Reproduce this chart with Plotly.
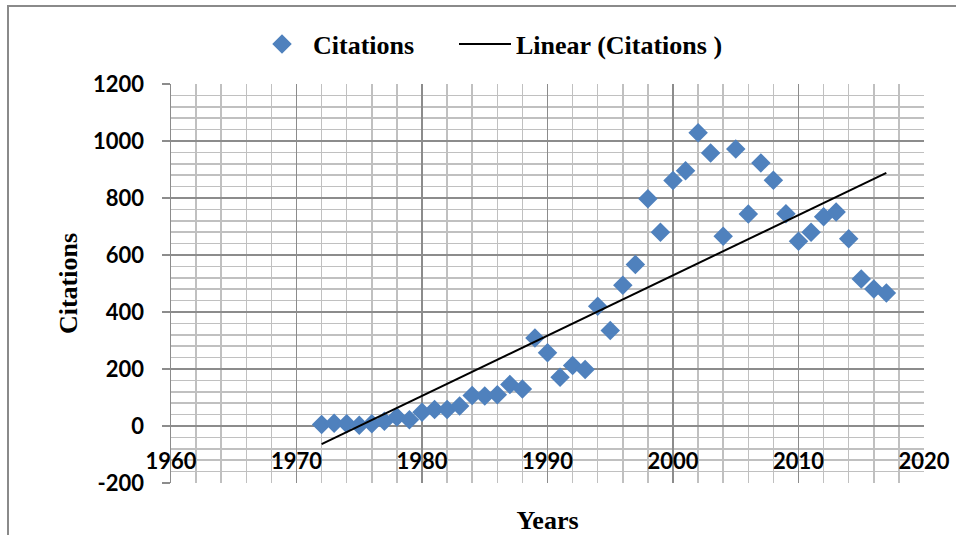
import numpy as np
import plotly.graph_objects as go

years = list(range(1972, 2018))
citations = [5, 10, 8, 3, 8, 17, 32, 22, 48, 58, 58, 70, 107, 105, 110, 146, 130,
             309, 257, 171, 212, 198, 420, 335, 494, 567, 797, 680, 861, 896,
             1029, 958, 666, 972, 744, 923, 862, 745, 648, 680, 734, 751, 657,
             516, 481, 467]

x_ticks = [1960, 1970, 1980, 1990, 2000, 2010, 2020]
y_ticks = [-200, 0, 200, 400, 600, 800, 1000, 1200]

slope, intercept = np.polyfit(years, citations, 1)
trend_x = [years[0], years[-1]]
trend_y = [slope * v + intercept for v in trend_x]

SERIF = "Liberation Serif, Times New Roman, serif"
SANS = "Lato, Carlito, Calibri, sans-serif"
MAJOR = "#8C8C8C"
MINOR = "#C0C0C0"

fig = go.Figure()
fig.add_trace(go.Scatter(
    x=years, y=citations, mode="markers", name="Citations",
    marker=dict(symbol="diamond", size=15, color="#4F81BD",
                line=dict(width=0)),
    legend="legend",
))
fig.add_trace(go.Scatter(
    x=trend_x, y=trend_y, mode="lines", name="Linear (Citations )",
    line=dict(color="black", width=2),
    legend="legend2",
))

L, R, T, B = 171, 32, 84, 52
W, H = 956, 535
pw, ph = W - L - R, H - T - B

def px_x(p):
    return (p - L) / pw

def px_y(p):
    return (H - B - p) / ph

legend_font = dict(family=SERIF, size=26, color="black", weight="bold")

fig.update_layout(
    width=W, height=H,
    margin=dict(l=L, r=R, t=T, b=B, autoexpand=False),
    paper_bgcolor="white", plot_bgcolor="white",
    showlegend=True,
    legend=dict(orientation="h", x=px_x(251), xanchor="left",
                y=px_y(44), yanchor="middle", font=legend_font,
                itemwidth=52, bgcolor="rgba(0,0,0,0)"),
    legend2=dict(orientation="h", x=px_x(454), xanchor="left",
                 y=px_y(44), yanchor="middle", font=legend_font,
                 itemwidth=52, bgcolor="rgba(0,0,0,0)"),
    xaxis=dict(
        range=[1960, 2020], tickvals=x_ticks, ticktext=[str(v) for v in x_ticks],
        showgrid=True, gridcolor=MAJOR, gridwidth=1.5,
        minor=dict(dtick=2, showgrid=True, gridcolor=MINOR, gridwidth=1.5),
        showline=False, zeroline=False, ticks="",
        ticklabelstandoff=-37,
        tickfont=dict(family=SANS, size=22, color="black", weight="bold"),
        title=dict(text="Years", standoff=38,
                   font=dict(family=SERIF, size=26, color="black", weight="bold")),
        fixedrange=True,
    ),
    yaxis=dict(
        range=[-200, 1200], tickvals=y_ticks, ticktext=[str(v) for v in y_ticks],
        showgrid=True, gridcolor=MAJOR, gridwidth=1.5,
        minor=dict(dtick=40, tick0=0, showgrid=True, gridcolor=MINOR, gridwidth=1.5),
        showline=True, linecolor=MAJOR, linewidth=1.5,
        zeroline=True, zerolinecolor=MAJOR, zerolinewidth=1.5,
        ticks="outside", ticklen=8, tickcolor=MAJOR, tickwidth=1.5,
        ticklabelstandoff=13,
        tickfont=dict(family=SANS, size=22, color="black", weight="bold"),
        title=dict(text="Citations", standoff=8,
                   font=dict(family=SERIF, size=26, color="black", weight="bold")),
        fixedrange=True,
    ),
    shapes=[dict(type="rect", xref="paper", yref="paper",
                 x0=px_x(8), x1=px_x(990), y0=px_y(570), y1=px_y(6),
                 line=dict(color="#8A8A8A", width=2), fillcolor="rgba(0,0,0,0)",
                 layer="below")],
)

fig.write_html("out.html",
               config={"displayModeBar": False, "staticPlot": True},
               post_script="document.body.style.margin='0';document.body.style.overflow='hidden';")
